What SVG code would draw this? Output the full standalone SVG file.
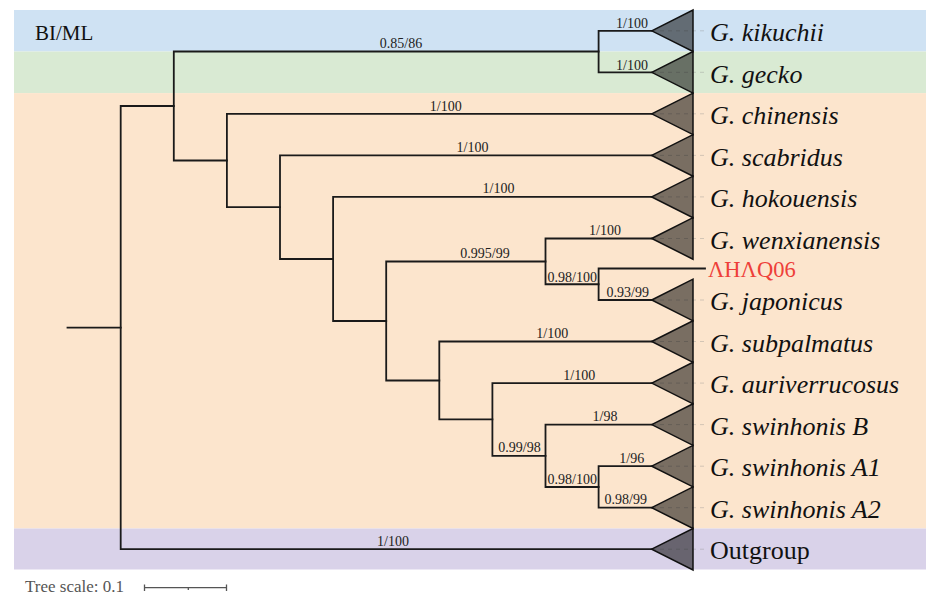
<svg xmlns="http://www.w3.org/2000/svg" width="926" height="594" viewBox="0 0 926 594">
<style>
.br{fill:none;stroke:#1a1a1a;stroke-width:1.8;stroke-linecap:square}
.tri{fill:#000;fill-opacity:0.52;stroke:#111;stroke-width:1.5;stroke-linejoin:miter}
.lead{stroke:#8a8a8a;stroke-width:1;stroke-dasharray:4 4;opacity:0.35}
.sp{font-family:"Liberation Serif","Times New Roman",serif;font-size:26px;font-style:italic;fill:#111}
.og{font-family:"Liberation Serif","Times New Roman",serif;font-size:26px;fill:#111}
.sv{font-family:"Liberation Serif","Times New Roman",serif;font-size:14px;fill:#222;text-anchor:middle}
.svs{font-family:"Liberation Serif","Times New Roman",serif;font-size:14px;fill:#222}
</style>
<g id="bands">
<rect x="14" y="10" width="912" height="41.5" fill="#cfe2f3"/>
<rect x="14" y="51.5" width="912" height="41.6" fill="#d9ead3"/>
<rect x="14" y="93.1" width="912" height="435.4" fill="#fce5cd"/>
<rect x="14" y="528.5" width="912" height="41" fill="#d9d2e9"/>
</g>
<text x="35" y="39.5" font-family="Liberation Serif,serif" font-size="21" fill="#111">BI/ML</text>
<g id="connectors">
<path class="br" d="M67.5,327.6 H120.7"/>
<path class="br" d="M173.8,106 H120.7 V549.2 H651.7"/>
<path class="br" d="M598.6,51.5 H173.8 V160.5 H226.9"/>
<path class="br" d="M651.7,30.8 H598.6 V72.3 H651.7"/>
<path class="br" d="M651.7,113.8 H226.9 V207.2 H280"/>
<path class="br" d="M651.7,155.4 H280 V259 H333.1"/>
<path class="br" d="M651.7,196.9 H333.1 V321 H386.2"/>
<path class="br" d="M545.5,261.5 H386.2 V380.5 H439.3"/>
<path class="br" d="M651.7,238.5 H545.5 V284.25 H598.6"/>
<path class="br" d="M705,268.5 H598.6 V300 H651.7"/>
<path class="br" d="M651.7,341.5 H439.3 V419.4 H492.4"/>
<path class="br" d="M651.7,383.1 H492.4 V455.8 H545.5"/>
<path class="br" d="M651.7,424.6 H545.5 V487 H598.6"/>
<path class="br" d="M651.7,466.2 H598.6 V507.7 H651.7"/>
</g>
<g id="support">
<text class="sv" x="401" y="48.3">0.85/86</text>
<text class="sv" x="632" y="28">1/100</text>
<text class="sv" x="632" y="69.5">1/100</text>
<text class="sv" x="445.8" y="110.7">1/100</text>
<text class="sv" x="472.5" y="152.3">1/100</text>
<text class="sv" x="498.5" y="193.3">1/100</text>
<text class="sv" x="485" y="258">0.995/99</text>
<text class="sv" x="605" y="235">1/100</text>
<text class="svs" x="547.5" y="281.7">0.98/100</text>
<text class="svs" x="606.5" y="297.3">0.93/99</text>
<text class="sv" x="552.3" y="338.3">1/100</text>
<text class="sv" x="579.3" y="380">1/100</text>
<text class="svs" x="498.3" y="452.3">0.99/98</text>
<text class="sv" x="605" y="421">1/98</text>
<text class="sv" x="631.7" y="463">1/96</text>
<text class="svs" x="547.5" y="484">0.98/100</text>
<text class="sv" x="625.7" y="504.3">0.98/99</text>
<text class="sv" x="393" y="545.5">1/100</text>
</g>
<g id="kikuchii"><line class="lead" x1="652" y1="30.8" x2="706" y2="30.8"/><polygon class="tri" points="651.7,30.8 693,10 693,51.5"/><text class="sp" x="710" y="41">G. kikuchii</text></g>
<g id="gecko"><line class="lead" x1="652" y1="72.3" x2="706" y2="72.3"/><polygon class="tri" points="651.7,72.3 693,51.5 693,93.1"/><text class="sp" x="710" y="82.5">G. gecko</text></g>
<g id="chinensis"><line class="lead" x1="652" y1="113.8" x2="706" y2="113.8"/><polygon class="tri" points="651.7,113.8 693,93.1 693,134.6"/><text class="sp" x="710" y="124">G. chinensis</text></g>
<g id="scabridus"><line class="lead" x1="652" y1="155.4" x2="706" y2="155.4"/><polygon class="tri" points="651.7,155.4 693,134.6 693,176.2"/><text class="sp" x="710" y="165.5">G. scabridus</text></g>
<g id="hokouensis"><line class="lead" x1="652" y1="196.9" x2="706" y2="196.9"/><polygon class="tri" points="651.7,196.9 693,176.2 693,217.7"/><text class="sp" x="710" y="207">G. hokouensis</text></g>
<g id="wenxianensis"><line class="lead" x1="652" y1="238.5" x2="706" y2="238.5"/><polygon class="tri" points="651.7,238.5 693,217.7 693,259.2"/><text class="sp" x="710" y="248.5">G. wenxianensis</text></g>
<g id="AHAQ06"><text x="708" y="276.7" font-family="Liberation Serif,serif" font-size="22.5" fill="#ee4039">ΛHΛQ06</text></g>
<g id="japonicus"><line class="lead" x1="652" y1="300" x2="706" y2="300"/><polygon class="tri" points="651.7,300 693,279.2 693,320.8"/><text class="sp" x="710" y="310">G. japonicus</text></g>
<g id="subpalmatus"><line class="lead" x1="652" y1="341.5" x2="706" y2="341.5"/><polygon class="tri" points="651.7,341.5 693,320.8 693,362.3"/><text class="sp" x="710" y="351.5">G. subpalmatus</text></g>
<g id="auriverrucosus"><line class="lead" x1="652" y1="383.1" x2="706" y2="383.1"/><polygon class="tri" points="651.7,383.1 693,362.3 693,403.8"/><text class="sp" x="710" y="393">G. auriverrucosus</text></g>
<g id="swinhonisB"><line class="lead" x1="652" y1="424.6" x2="706" y2="424.6"/><polygon class="tri" points="651.7,424.6 693,403.8 693,445.4"/><text class="sp" x="710" y="434.5">G. swinhonis B</text></g>
<g id="swinhonisA1"><line class="lead" x1="652" y1="466.2" x2="706" y2="466.2"/><polygon class="tri" points="651.7,466.2 693,445.4 693,486.9"/><text class="sp" x="710" y="476">G. swinhonis A1</text></g>
<g id="swinhonisA2"><line class="lead" x1="652" y1="507.7" x2="706" y2="507.7"/><polygon class="tri" points="651.7,507.7 693,486.9 693,528.5"/><text class="sp" x="710" y="517.5">G. swinhonis A2</text></g>
<g id="outgroup"><line class="lead" x1="652" y1="549.2" x2="706" y2="549.2"/><polygon class="tri" points="651.7,549.2 693,528.5 693,570"/><text class="og" x="710" y="559">Outgroup</text></g>
<g id="scale">
<text x="25" y="591.5" font-family="Liberation Serif,serif" font-size="17" fill="#555">Tree scale: 0.1</text>
<path d="M144.5,587.7 H226.5 M144.5,584.5 V591 M226.5,584.5 V591 M188.3,587.7 V590" fill="none" stroke="#555" stroke-width="1.3"/>
</g>
</svg>
